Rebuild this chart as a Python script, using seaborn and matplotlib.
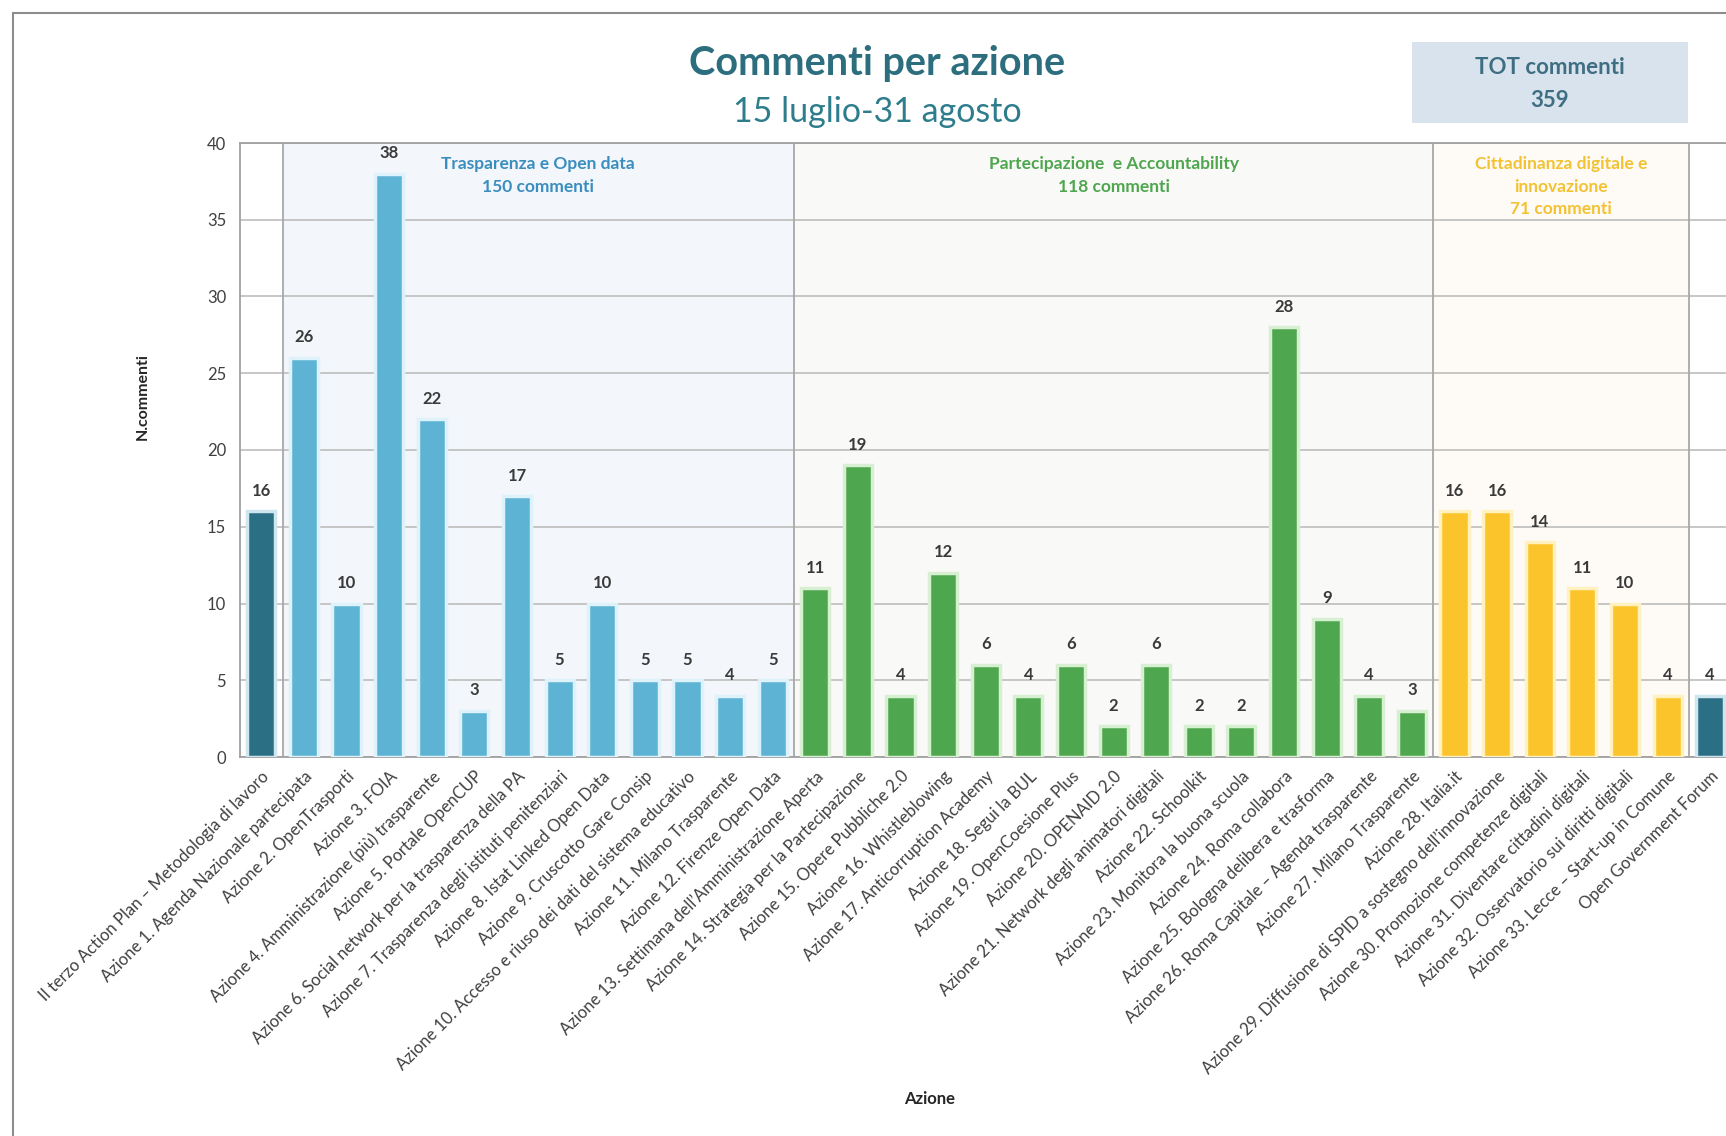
import numpy as np
import pandas as pd
import matplotlib
matplotlib.use("Agg")
import matplotlib.pyplot as plt
import seaborn as sns
from matplotlib.lines import Line2D
from matplotlib.patches import Rectangle

categories = [
    "Il terzo Action Plan – Metodologia di lavoro",
    "Azione 1. Agenda Nazionale partecipata",
    "Azione 2. OpenTrasporti",
    "Azione 3. FOIA",
    "Azione 4. Amministrazione (più) trasparente",
    "Azione 5. Portale OpenCUP",
    "Azione 6. Social network per la trasparenza della PA",
    "Azione 7. Trasparenza degli istituti penitenziari",
    "Azione 8. Istat Linked Open Data",
    "Azione 9. Cruscotto Gare Consip",
    "Azione 10. Accesso e riuso dei dati del sistema educativo",
    "Azione 11. Milano Trasparente",
    "Azione 12. Firenze Open Data",
    "Azione 13. Settimana dell’Amministrazione Aperta",
    "Azione 14. Strategia per la Partecipazione",
    "Azione 15. Opere Pubbliche 2.0",
    "Azione 16. Whistleblowing",
    "Azione 17. Anticorruption Academy",
    "Azione 18. Segui la BUL",
    "Azione 19. OpenCoesione Plus",
    "Azione 20. OPENAID 2.0",
    "Azione 21. Network degli animatori digitali",
    "Azione 22. Schoolkit",
    "Azione 23. Monitora la buona scuola",
    "Azione 24. Roma collabora",
    "Azione 25. Bologna delibera e trasforma",
    "Azione 26. Roma Capitale – Agenda trasparente",
    "Azione 27. Milano Trasparente",
    "Azione 28. Italia.it",
    "Azione 29. Diffusione di SPID a sostegno dell’innovazione",
    "Azione 30. Promozione competenze digitali",
    "Azione 31. Diventare cittadini digitali",
    "Azione 32. Osservatorio sui diritti digitali",
    "Azione 33. Lecce – Start-up in Comune",
    "Open Government Forum",
]
values = [16, 26, 10, 38, 22, 3, 17, 5, 10, 5, 5, 4, 5,
          11, 19, 4, 12, 6, 4, 6, 2, 6, 2, 2, 28, 9, 4, 3,
          16, 16, 14, 11, 10, 4,
          4]
groups = (["Generale"] + ["Trasparenza"] * 12 + ["Partecipazione"] * 15
          + ["Cittadinanza"] * 6 + ["Generale"])
group_order = ["Generale", "Trasparenza", "Partecipazione", "Cittadinanza"]
group_colors = ["#2B6F84", "#5DB3D3", "#4EA64E", "#FBC42B"]
group_edges = ["#CFE6EE", "#DDF2FA", "#D8F0D2", "#FFF1C0"]
group_titles = ["Trasparenza e Open data\n150 commenti",
                "Partecipazione  e Accountability\n118 commenti",
                "Cittadinanza digitale e\ninnovazione\n71 commenti"]
group_title_colors = ["#3A8EBF", "#4EA64E", "#F2C233"]
group_bg = ["#F3F6FA", "#F9F9F8", "#FEFBF6"]
total_label = "TOT commenti\n359"

df = pd.DataFrame({"Azione": categories, "N.commenti": values, "Gruppo": groups})

sns.set_theme(style="white")
plt.rcParams["font.family"] = ["Lato", "DejaVu Sans"]

W, H = 1726, 1136
fig = plt.figure(figsize=(W / 100, H / 100), dpi=100)
fig.patch.set_facecolor("white")
ax = fig.add_axes([240 / W, 1 - 757 / H, 1491.5 / W, (757 - 143) / H])

sns.barplot(data=df, x="Azione", y="N.commenti", hue="Gruppo", order=categories,
            hue_order=group_order, palette=group_colors, dodge=False,
            saturation=1, width=0.66, legend=False, ax=ax, zorder=3)

for cont, ec in zip(ax.containers, group_edges):
    for p in cont:
        p.set_edgecolor(ec)
        p.set_linewidth(2.5)
    ax.bar_label(cont, fmt="%d", padding=9, fontsize=12, fontweight="bold",
                 color="#3A3A3A")

ax.set_xlim(-0.5, len(categories) - 0.5)
ax.set_ylim(0, 40)
ax.set_yticks(np.arange(0, 41, 5))
ax.yaxis.grid(True, color="#BDBDBD", linewidth=1.2, zorder=1)
ax.set_axisbelow(True)

# group background bands
n_per = [12, 15, 6]
bounds = [0.5]
for n in n_per:
    bounds.append(bounds[-1] + n)
for i in range(3):
    ax.axvspan(bounds[i], bounds[i + 1], color=group_bg[i], zorder=0)
    mid = (bounds[i] + bounds[i + 1]) / 2
    ax.text(mid, 39.15, group_titles[i], ha="center", va="top", fontsize=12.5,
            fontweight="bold", color=group_title_colors[i], linespacing=1.5,
            zorder=5)
for b in bounds:
    ax.axvline(b, color="#A8A8A8", linewidth=1.3, zorder=2)

for s in ["left", "bottom", "top"]:
    ax.spines[s].set_color("#A0A0A0")
    ax.spines[s].set_linewidth(1.3)
ax.spines["right"].set_visible(False)

ax.set_xticks(range(len(categories)))
ax.set_xticklabels(categories, rotation=45, ha="right", rotation_mode="anchor",
                   fontsize=12, color="#404040")
ax.tick_params(axis="x", length=0, pad=8)
ax.tick_params(axis="y", length=0, pad=10, labelsize=12, labelcolor="#404040")
ax.set_xlabel("")
ax.set_ylabel("")

fig.text(143 / W, 1 - 396 / H, "N.commenti", rotation=90, ha="center", va="center",
         fontsize=11.5, fontweight="bold", color="#262626")
fig.text(930 / W, 1 - 1099 / H, "Azione", ha="center", va="center",
         fontsize=12, fontweight="bold", color="#262626")

# titles
fig.text(877 / W, 1 - 63 / H, "Commenti per azione", ha="center", va="center",
         fontsize=28.5, fontweight="bold", color="#2C6E7E")
fig.text(877 / W, 1 - 112 / H, "15 luglio-31 agosto", ha="center", va="center",
         fontsize=24.5, color="#2E7D8C")

# total box
fig.add_artist(Rectangle((1412 / W, 1 - 123 / H), (1688 - 1412) / W, (123 - 42) / H,
                         transform=fig.transFigure, facecolor="#D9E3EE",
                         edgecolor="none"))
fig.text(1550 / W, 1 - 84 / H, total_label, ha="center", va="center",
         fontsize=16, fontweight="bold", color="#3E6E82", linespacing=1.75)

# outer frame
fig.add_artist(Line2D([13 / W, 13 / W], [1 - 13 / H, 0], transform=fig.transFigure,
                      color="#8C8C8C", linewidth=1.5))
fig.add_artist(Line2D([13 / W, 1], [1 - 13 / H, 1 - 13 / H], transform=fig.transFigure,
                      color="#8C8C8C", linewidth=1.5))

fig.savefig("out.png", dpi=100)
